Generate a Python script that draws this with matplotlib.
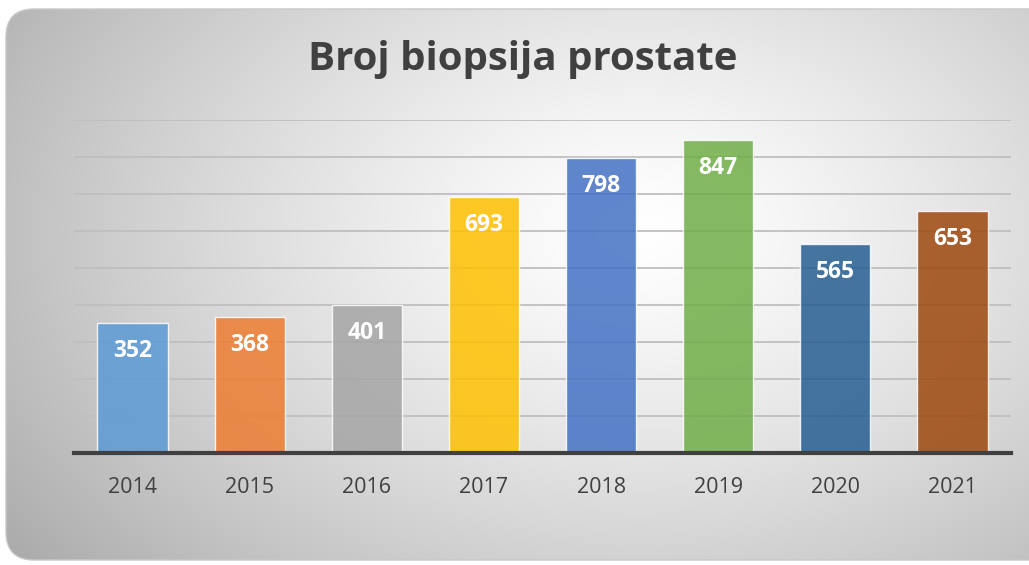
import numpy as np
import matplotlib
matplotlib.use("Agg")
import matplotlib.pyplot as plt
from matplotlib.patches import FancyBboxPatch

years = ["2014", "2015", "2016", "2017", "2018", "2019", "2020", "2021"]
values = [352, 368, 401, 693, 798, 847, 565, 653]
colors = ["#5B9BD5", "#ED7D31", "#A5A5A5", "#FFC000", "#4472C4", "#70AD47", "#255E91", "#9E480E"]
title = "Broj biopsija prostate"

plt.rcParams['font.family'] = ['Open Sans', 'DejaVu Sans']

W, H = 1029, 565
fig = plt.figure(figsize=(W / 100, H / 100), dpi=100)
fig.patch.set_facecolor("white")

# background gradient panel
bg = fig.add_axes([0, 0, 1, 1])
bg.set_xlim(0, W)
bg.set_ylim(H, 0)
bg.axis("off")
yy, xx = np.mgrid[0:H, 0:W]
cx, cy = 640, 230
d = np.sqrt(((xx - cx) / 620.0) ** 2 + ((yy - cy) / 420.0) ** 2)
v = 1.0 - 0.24 * np.clip(d, 0, 1.3) ** 1.3
img = np.dstack([v, v, v])
panel = FancyBboxPatch((6, 9), W + 30, 551, boxstyle="round,pad=0,rounding_size=28",
                       transform=bg.transData, facecolor="none", edgecolor="#c8c8c8", lw=1.0)
bg.add_patch(panel)
im = bg.imshow(img, extent=(0, W, H, 0), aspect="auto", zorder=0)
im.set_clip_path(panel)

ax = fig.add_axes([74 / W, 1 - 453 / H, (1011 - 74) / W, (453 - 120) / H])
ax.patch.set_alpha(0)
x = np.arange(len(years))
bars = ax.bar(x, values, width=0.6, color=colors, alpha=0.85, zorder=3,
              edgecolor="#ffffff40", linewidth=1.0)
ax.set_xlim(-0.5, len(years) - 0.5)
ax.set_ylim(0, 900)
ax.set_yticks(np.arange(100, 901, 100))
ax.yaxis.grid(True, color="#bfbfbf", lw=1.3, zorder=1)
ax.tick_params(axis="y", left=False, labelleft=False)
ax.set_xticks(x)
ax.set_xticklabels(years, fontsize=15.5, color="#404040")
ax.tick_params(axis="x", length=0, pad=17)
for s in ["top", "right", "left"]:
    ax.spines[s].set_visible(False)
ax.spines["bottom"].set_color("#404040")
ax.spines["bottom"].set_linewidth(3)
ax.spines["bottom"].set_zorder(4)

for xi, val in zip(x, values):
    ax.annotate(str(val), (xi, val), xytext=(0, -28), textcoords="offset pixels",
                ha="center", va="center", color="white", fontsize=16.5, fontweight="bold", zorder=5)

fig.text(523 / W, 1 - 60 / H, title, ha="center", va="center", fontsize=29,
         fontweight="bold", color="#404040")

fig.savefig("out.png", dpi=100)
